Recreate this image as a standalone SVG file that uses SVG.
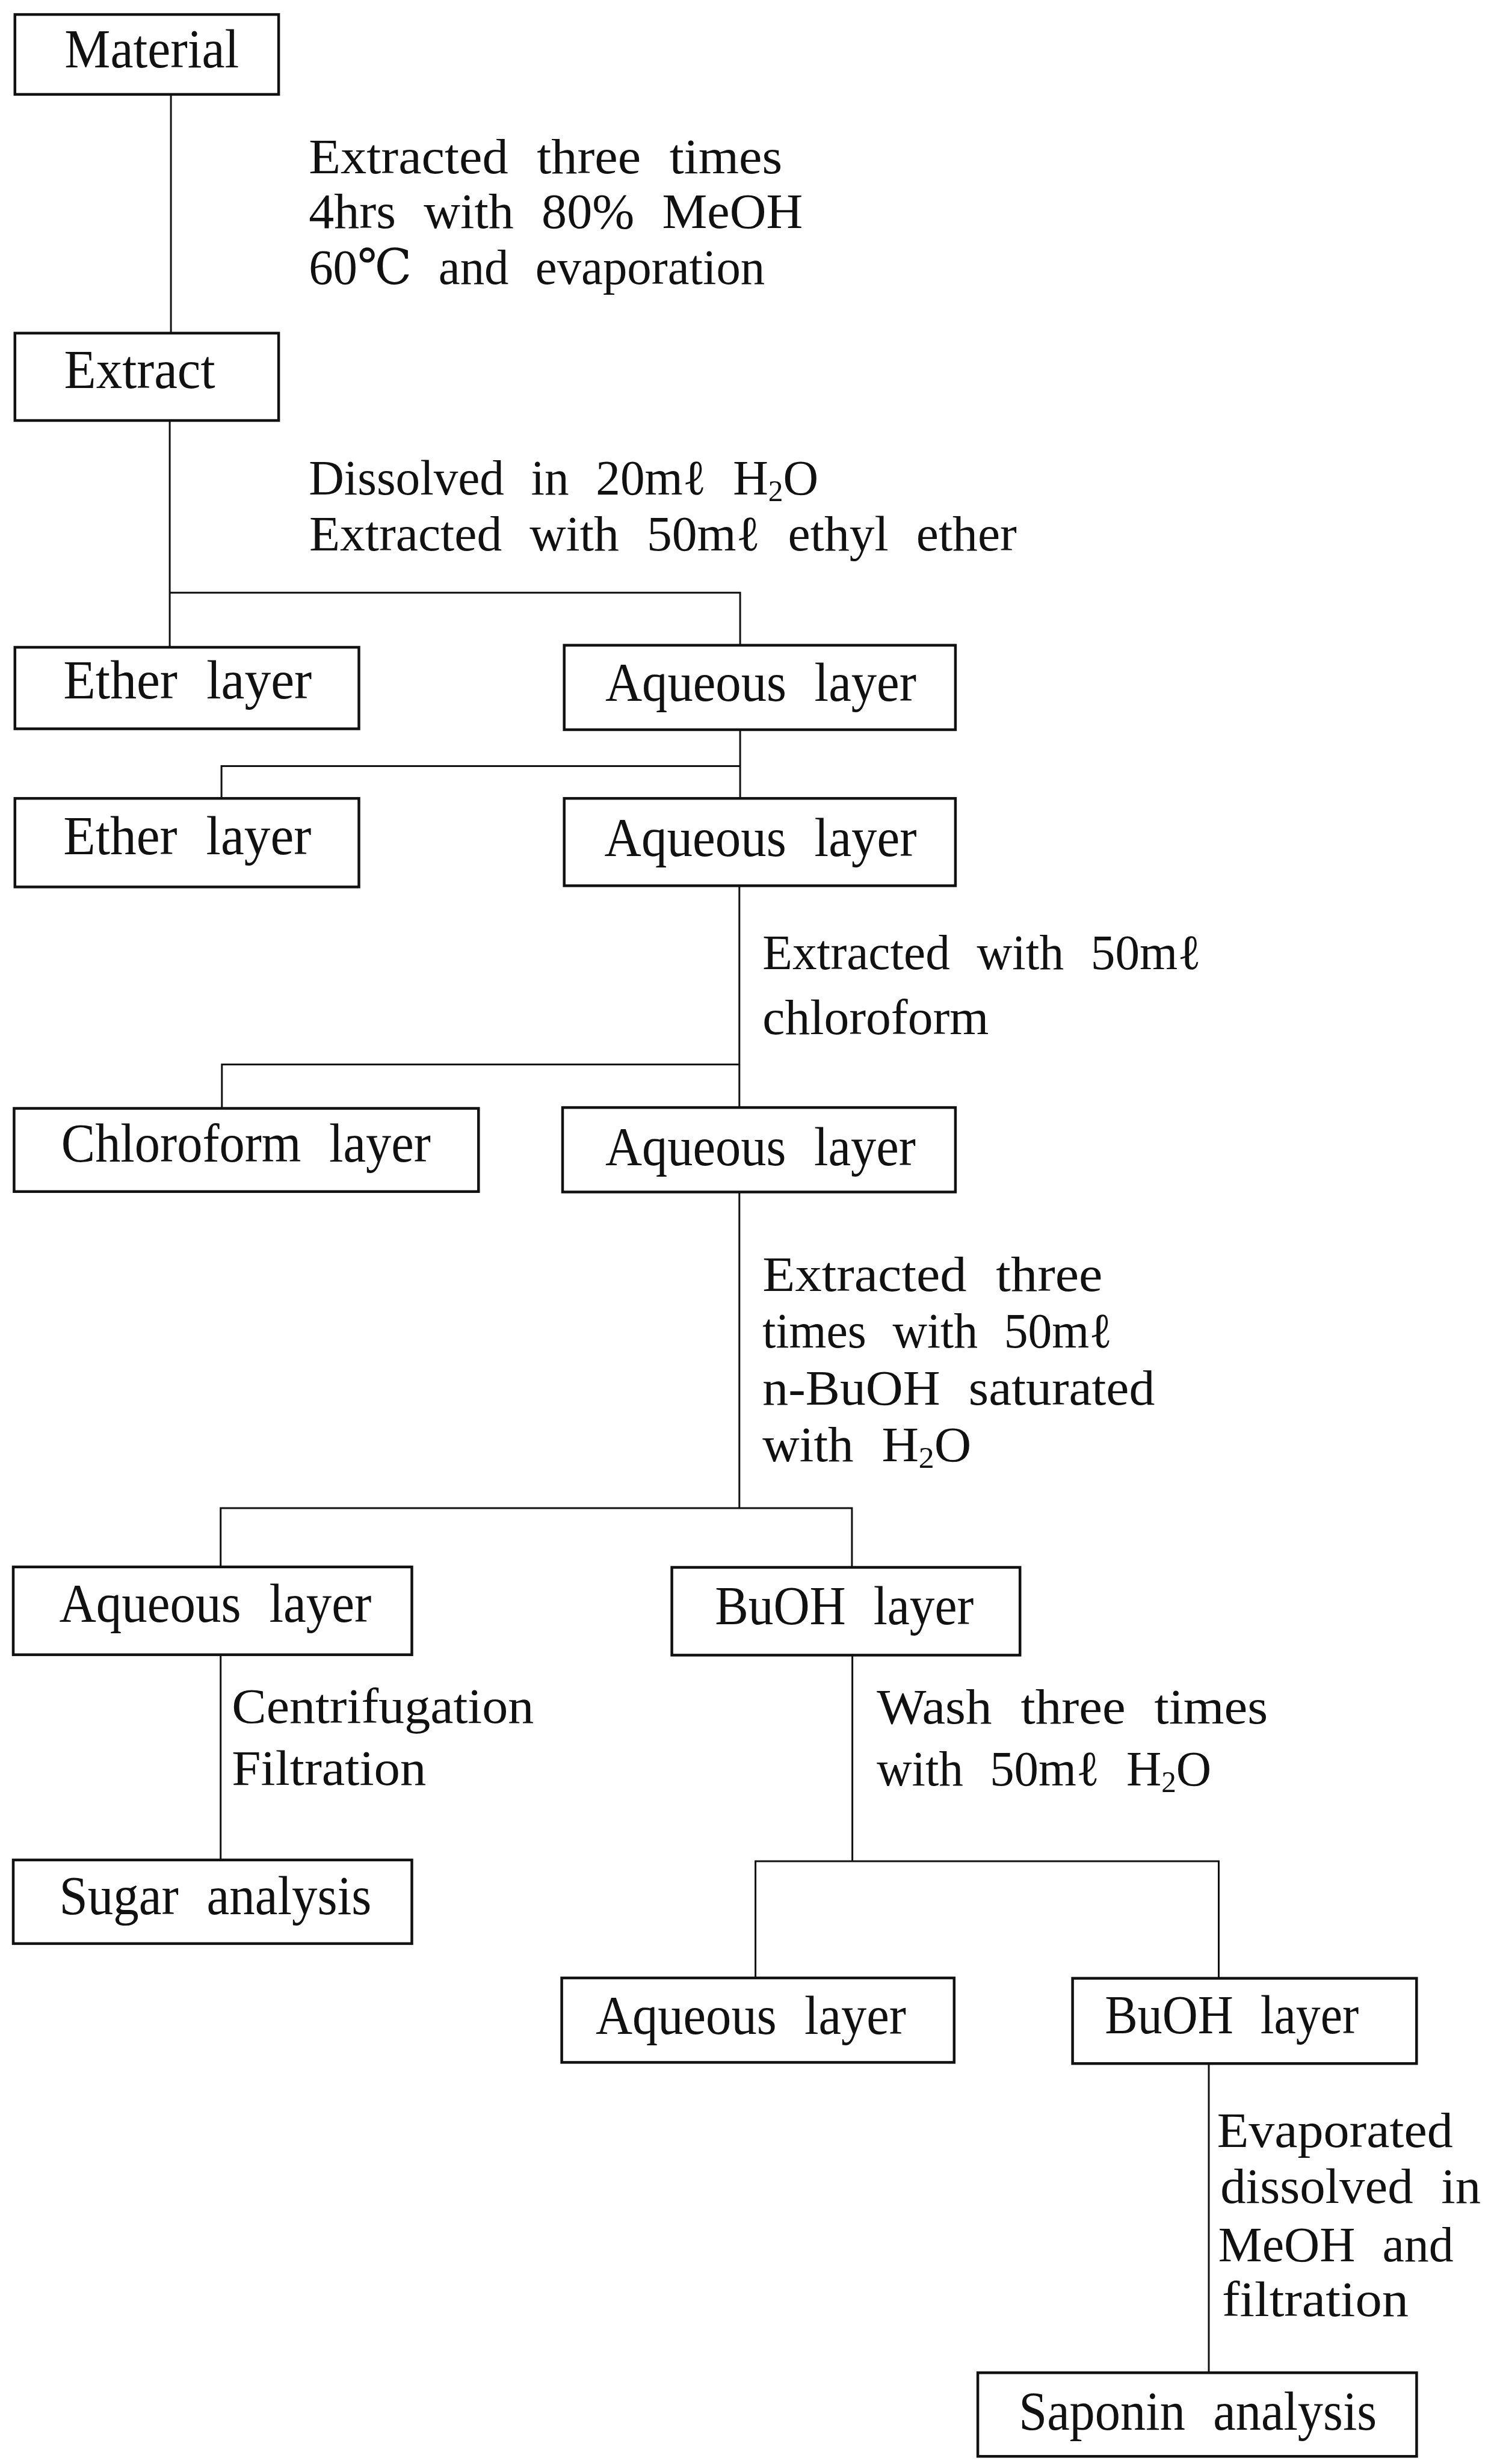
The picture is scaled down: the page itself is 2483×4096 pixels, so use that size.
<svg xmlns="http://www.w3.org/2000/svg" width="2483" height="4096" viewBox="0 0 2483 4096">
<style>
.box{fill:none;stroke:#111;stroke-width:4.5}
.conn{fill:none;stroke:#111;stroke-width:3;stroke-linecap:square}
text{font-family:"Liberation Serif","DejaVu Serif","Noto Sans CJK JP",serif;fill:#111;word-spacing:0.3em}
.nt{font-size:92px}
.lb{font-size:82px}
.sub{font-size:50px}
</style>
<rect width="2483" height="4096" fill="#fff"/>
<g id="connectors">
<path class="conn" d="M284.1,156.9 V553.8"/>
<path class="conn" d="M282.1,699 V985.2 M282.1,985.2 H1230.1 M282.1,985.2 V1076 M1230.1,985.2 V1072.6"/>
<path class="conn" d="M1230.1,1213 V1327.2 M368.1,1273.5 H1230.1 M368.1,1273.5 V1327.2"/>
<path class="conn" d="M1228.8,1472.3 V1841.1 M368.8,1769.5 H1228.8 M368.8,1769.5 V1842.5"/>
<path class="conn" d="M1228.8,1981.4 V2507.1 M366.7,2507.1 H1415.9 M366.7,2507.1 V2604.8 M1415.9,2507.1 V2605.5"/>
<path class="conn" d="M366.7,2750.6 V3091.9"/>
<path class="conn" d="M1416.6,2751.3 V3093.9 M1255.6,3093.9 H2025.5 M1255.6,3093.9 V3288 M2025.5,3093.9 V3288.6"/>
<path class="conn" d="M2009,3430.4 V3944.3"/>
</g>
<g id="labels">
<text class="lb" x="513.2" y="287.6" textLength="787" lengthAdjust="spacingAndGlyphs">Extracted three times</text>
<text class="lb" x="513.2" y="379.1" textLength="821" lengthAdjust="spacingAndGlyphs">4hrs with 80% MeOH</text>
<text class="lb" x="513.2" y="472" textLength="758" lengthAdjust="spacingAndGlyphs">60℃ and evaporation</text>
<text class="lb" x="513.2" y="822.2" textLength="847" lengthAdjust="spacingAndGlyphs">Dissolved in 20mℓ H<tspan class="sub" dy="11">2</tspan><tspan dy="-11">O</tspan></text>
<text class="lb" x="513.9" y="915" textLength="1176" lengthAdjust="spacingAndGlyphs">Extracted with 50mℓ ethyl ether</text>
<text class="lb" x="1267.3" y="1611.3" textLength="729" lengthAdjust="spacingAndGlyphs">Extracted with 50mℓ</text>
<text class="lb" x="1267.3" y="1719.3" textLength="376" lengthAdjust="spacingAndGlyphs">chloroform</text>
<text class="lb" x="1267.3" y="2145.9" textLength="565" lengthAdjust="spacingAndGlyphs">Extracted three</text>
<text class="lb" x="1267.3" y="2240.1" textLength="581" lengthAdjust="spacingAndGlyphs">times with 50mℓ</text>
<text class="lb" x="1267.3" y="2335.1" textLength="652" lengthAdjust="spacingAndGlyphs">n-BuOH saturated</text>
<text class="lb" x="1267.3" y="2428.6" textLength="347" lengthAdjust="spacingAndGlyphs">with H<tspan class="sub" dy="11">2</tspan><tspan dy="-11">O</tspan></text>
<text class="lb" x="385.3" y="2863.5" textLength="502" lengthAdjust="spacingAndGlyphs">Centrifugation</text>
<text class="lb" x="385.3" y="2966.7" textLength="323" lengthAdjust="spacingAndGlyphs">Filtration</text>
<text class="lb" x="1457.2" y="2864.8" textLength="650" lengthAdjust="spacingAndGlyphs">Wash three times</text>
<text class="lb" x="1457.2" y="2968" textLength="556" lengthAdjust="spacingAndGlyphs">with 50mℓ H<tspan class="sub" dy="11">2</tspan><tspan dy="-11">O</tspan></text>
<text class="lb" x="2022.7" y="3569.3" textLength="392" lengthAdjust="spacingAndGlyphs">Evaporated</text>
<text class="lb" x="2028.2" y="3661.5" textLength="433" lengthAdjust="spacingAndGlyphs">dissolved in</text>
<text class="lb" x="2024.8" y="3758.5" textLength="391" lengthAdjust="spacingAndGlyphs">MeOH and</text>
<text class="lb" x="2031" y="3850" textLength="310" lengthAdjust="spacingAndGlyphs">filtration</text>
</g>
<g id="material"><rect class="box" x="24.8" y="24.1" width="438.3" height="132.8"/><text class="nt" x="107.3" y="112.1" textLength="290" lengthAdjust="spacingAndGlyphs">Material</text></g>
<g id="extract"><rect class="box" x="24.8" y="553.8" width="438.3" height="145.2"/><text class="nt" x="106.6" y="644.7" textLength="251" lengthAdjust="spacingAndGlyphs">Extract</text></g>
<g id="ether1"><rect class="box" x="24.8" y="1076" width="571.7" height="135.5"/><text class="nt" x="105.3" y="1161.3" textLength="413" lengthAdjust="spacingAndGlyphs">Ether layer</text></g>
<g id="aqueous1"><rect class="box" x="937.7" y="1072.6" width="650.2" height="140.4"/><text class="nt" x="1005.9" y="1164.8" textLength="517" lengthAdjust="spacingAndGlyphs">Aqueous layer</text></g>
<g id="ether2"><rect class="box" x="24.8" y="1327.2" width="571.7" height="147.2"/><text class="nt" x="105.3" y="1420" textLength="412" lengthAdjust="spacingAndGlyphs">Ether layer</text></g>
<g id="aqueous2"><rect class="box" x="937.7" y="1327.2" width="650.2" height="145.2"/><text class="nt" x="1004.5" y="1422.8" textLength="519" lengthAdjust="spacingAndGlyphs">Aqueous layer</text></g>
<g id="chloroform"><rect class="box" x="23.4" y="1842.5" width="771.9" height="138.3"/><text class="nt" x="101.8" y="1931.2" textLength="614" lengthAdjust="spacingAndGlyphs">Chloroform layer</text></g>
<g id="aqueous3"><rect class="box" x="935" y="1841.1" width="652.9" height="140.4"/><text class="nt" x="1005.9" y="1937.4" textLength="516" lengthAdjust="spacingAndGlyphs">Aqueous layer</text></g>
<g id="aqueous4"><rect class="box" x="22" y="2604.8" width="662.5" height="145.9"/><text class="nt" x="98.4" y="2695.6" textLength="519" lengthAdjust="spacingAndGlyphs">Aqueous layer</text></g>
<g id="buoh1"><rect class="box" x="1116.6" y="2605.5" width="578.6" height="145.9"/><text class="nt" x="1188.2" y="2699.7" textLength="430" lengthAdjust="spacingAndGlyphs">BuOH layer</text></g>
<g id="sugar"><rect class="box" x="22" y="3091.9" width="662.5" height="139"/><text class="nt" x="98.4" y="3182" textLength="519" lengthAdjust="spacingAndGlyphs">Sugar analysis</text></g>
<g id="aqueous5"><rect class="box" x="933.6" y="3288" width="652.2" height="140.4"/><text class="nt" x="990" y="3380.8" textLength="516" lengthAdjust="spacingAndGlyphs">Aqueous layer</text></g>
<g id="buoh2"><rect class="box" x="1782.6" y="3288.6" width="571.7" height="141.7"/><text class="nt" x="1836.3" y="3379.5" textLength="422" lengthAdjust="spacingAndGlyphs">BuOH layer</text></g>
<g id="saponin"><rect class="box" x="1625.1" y="3944.3" width="729.3" height="139"/><text class="nt" x="1693.2" y="4038.6" textLength="595" lengthAdjust="spacingAndGlyphs">Saponin analysis</text></g>
</svg>
